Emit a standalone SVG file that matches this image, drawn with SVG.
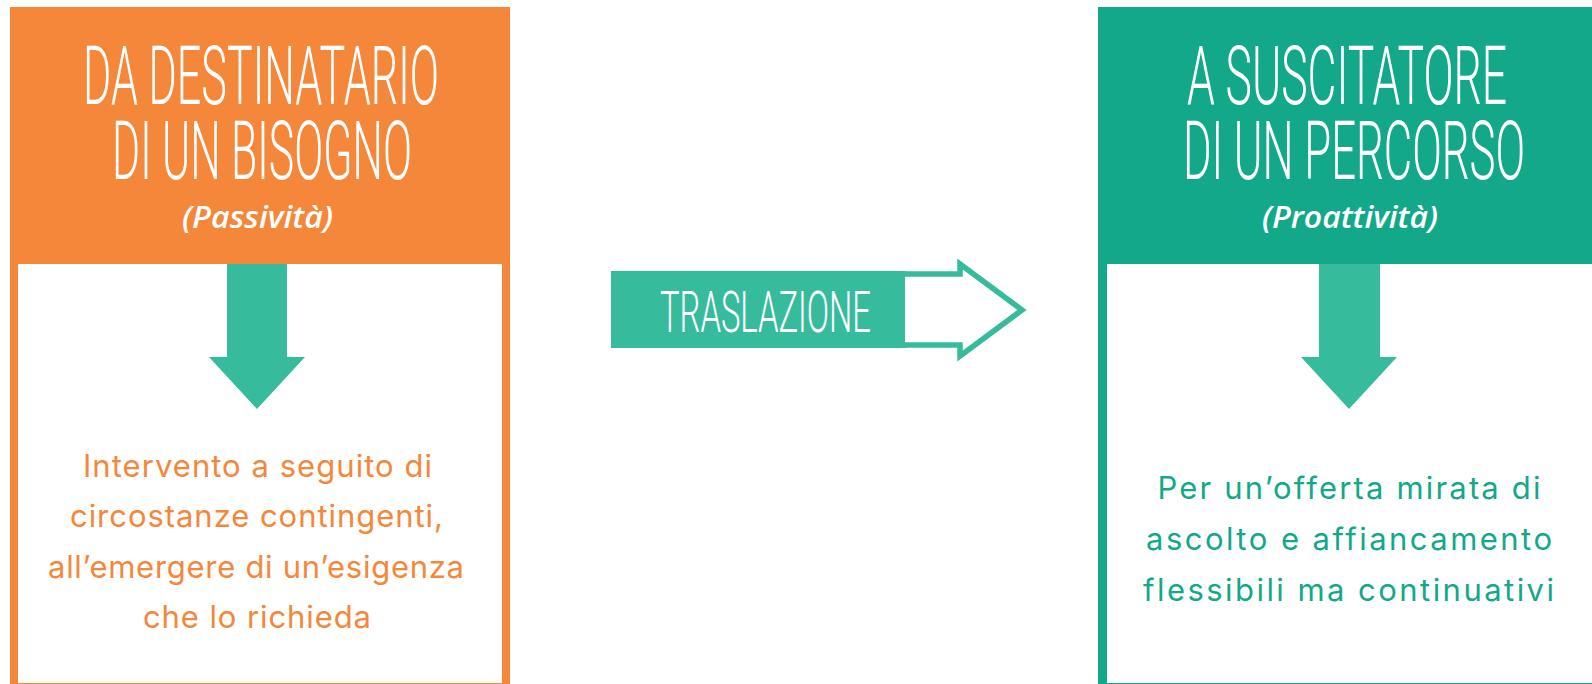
<svg xmlns="http://www.w3.org/2000/svg" width="1592" height="684" viewBox="0 0 1592 684">
<defs>
<style>
.hdr{font-family:Roboto,"Liberation Sans Narrow",sans-serif;font-weight:300;font-size:82px;fill:#fff;text-anchor:middle}
.sub{font-family:"Open Sans","Liberation Sans",sans-serif;font-style:italic;font-weight:600;font-size:30px;fill:#fff;text-anchor:middle}
.body{font-family:Inter,"Liberation Sans",sans-serif;font-size:31px;text-anchor:middle}
.or{fill:#F5873A}
.gr{fill:#13A88A}
.arr{fill:#36BB9D}
</style>
</defs>
<rect width="1592" height="684" fill="#fff"/>
<g id="left-node">
<rect x="10" y="7" width="500" height="677" fill="#F5873A"/>
<rect x="18" y="264" width="484" height="419" fill="#fff"/>
<text class="hdr" transform="translate(261,104) scale(0.47,1)" x="0" y="0" textLength="757" lengthAdjust="spacingAndGlyphs">DA DESTINATARIO</text>
<text class="hdr" transform="translate(262,179) scale(0.47,1)" x="0" y="0" textLength="638" lengthAdjust="spacingAndGlyphs">DI UN BISOGNO</text>
<text class="sub" x="257.5" y="228" textLength="151" lengthAdjust="spacingAndGlyphs">(Passività)</text>
<polygon class="arr" points="227,264 287,264 287,357 305,357 257,409 209,357 227,357"/>
<text class="body or" x="257.5" y="477" textLength="349" lengthAdjust="spacing">Intervento a seguito di</text>
<text class="body or" x="256.5" y="527" textLength="373" lengthAdjust="spacing">circostanze contingenti,</text>
<text class="body or" x="256" y="578" textLength="416" lengthAdjust="spacing">all’emergere di un’esigenza</text>
<text class="body or" x="257" y="628" textLength="228" lengthAdjust="spacing">che lo richieda</text>
</g>
<g id="right-node">
<rect x="1098" y="7" width="494" height="677" fill="#13A88A"/>
<rect x="1107" y="264" width="485" height="419" fill="#fff"/>
<text class="hdr" transform="translate(1347,104) scale(0.47,1)" x="0" y="0" textLength="681" lengthAdjust="spacingAndGlyphs">A SUSCITATORE</text>
<text class="hdr" transform="translate(1354,179) scale(0.47,1)" x="0" y="0" textLength="728" lengthAdjust="spacingAndGlyphs">DI UN PERCORSO</text>
<text class="sub" x="1350" y="228" textLength="176" lengthAdjust="spacingAndGlyphs">(Proattività)</text>
<polygon class="arr" points="1319,264 1380,264 1380,357 1397,357 1349,409 1301,357 1319,357"/>
<text class="body gr" x="1349" y="499" textLength="383" lengthAdjust="spacing">Per un’offerta mirata di</text>
<text class="body gr" x="1349" y="550" textLength="406" lengthAdjust="spacing">ascolto e affiancamento</text>
<text class="body gr" x="1348.5" y="601" textLength="411" lengthAdjust="spacing">flessibili ma continuativi</text>
</g>
<g id="connectors">
<g id="traslazione">
<rect x="611" y="271" width="295" height="77" fill="#36BB9D"/>
<path d="M905 274 L960 274 L960 264 L1022 310 L960 356 L960 345 L905 345" fill="#fff" stroke="#36BB9D" stroke-width="5.5" stroke-linejoin="miter"/>
<text transform="translate(765.5,332) scale(0.47,1)" x="0" y="0" font-family="Roboto,'Liberation Sans Narrow',sans-serif" font-weight="300" font-size="58" fill="#fff" text-anchor="middle" textLength="449" lengthAdjust="spacingAndGlyphs">TRASLAZIONE</text>
</g>
</g>
</svg>
